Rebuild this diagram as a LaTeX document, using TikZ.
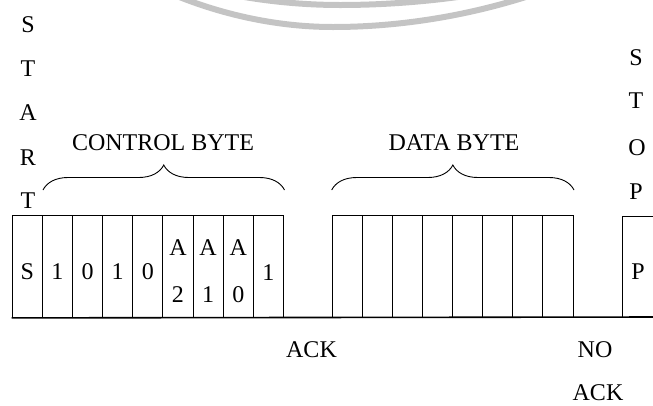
\documentclass[tikz,border=0pt]{standalone}
\usepackage{fontspec}
\setmainfont{Liberation Serif}
\usetikzlibrary{decorations.pathreplacing}
\definecolor{wmgray}{RGB}{196,196,196}
\begin{document}
\begin{tikzpicture}[x=1pt,y=-1pt,
  every node/.style={font=\fontsize{24}{28}\selectfont, inner sep=0pt},
  cell/.style={draw, line width=0.9pt, rectangle, minimum width=30.15pt, minimum height=102pt, anchor=north west},
  bracestyle/.style={draw, line width=0.9pt, decorate, decoration={brace, amplitude=25pt}},
  wm/.style={draw=wmgray, line width=6pt}]
\useasboundingbox (0,0) rectangle (653,405);
\clip (0,0) rectangle (653,405);
% watermark arcs
\draw[wm] (172,-6) parabola bend (333,27) (535,-6);
\draw[wm] (228,-6) parabola bend (340,5) (478,-6);
% START letters
\node (st1) at (28,25) {S};
\node (st2) at (28,68.5) {T};
\node (st3) at (28,113) {A};
\node (st4) at (28,157.5) {R};
\node (st5) at (28,201) {T};
% STOP letters
\node (sp1) at (636,58) {S};
\node (sp2) at (636,101) {T};
\node (sp3) at (637,147.5) {O};
\node (sp4) at (636,191.5) {P};
% control byte cells
\foreach \i in {0,...,8} {
  \node[cell] (c\i) at (11.7+30.15*\i,215) {};
}
% data byte cells
\foreach \i in {0,...,7} {
  \node[cell] (d\i) at (331.7+30.1*\i,215) {};
}
% stop cell
\node[cell, minimum width=45pt, minimum height=101pt] (pc) at (622,216) {};
% baseline
\coordinate (lineend) at (660,317);
\draw[line width=1.6pt] (c0.south west) -- (lineend);
% cell texts
\node (tS) at (c0.center |- 0,272) {S};
\node (t1) at (c1.center |- 0,272) {1};
\node (t2) at (c2.center |- 0,272) {0};
\node (t3) at (c3.center |- 0,272) {1};
\node (t4) at (c4.center |- 0,272) {0};
\node (a2) at (c5.center |- 0,248) {A};
\node (n2) at (c5.center |- 0,295) {2};
\node (a1) at (c6.center |- 0,248) {A};
\node (n1) at (c6.center |- 0,295) {1};
\node (a0) at (c7.center |- 0,248) {A};
\node (n0) at (c7.center |- 0,295) {0};
\node (t8) at (c8.center |- 0,273) {1};
\node (tP) at (638,272) {P};
% braces
\coordinate (cbL) at (43,190);
\coordinate (cbR) at (284.5,190);
\coordinate (dbL) at (331.7,190);
\coordinate (dbR) at (574,190);
\draw[bracestyle] (cbL) -- (cbR);
\draw[bracestyle] (dbL) -- (dbR);
\node (cbyte) at (163,142.5) {CONTROL BYTE};
\node (dbyte) at (454,143) {DATA BYTE};
% ACK labels
\node (ack) at (311.5,350) {ACK};
\node (no) at (595,350) {NO};
\node (nack) at (598,392.5) {ACK};
\end{tikzpicture}
\end{document}
